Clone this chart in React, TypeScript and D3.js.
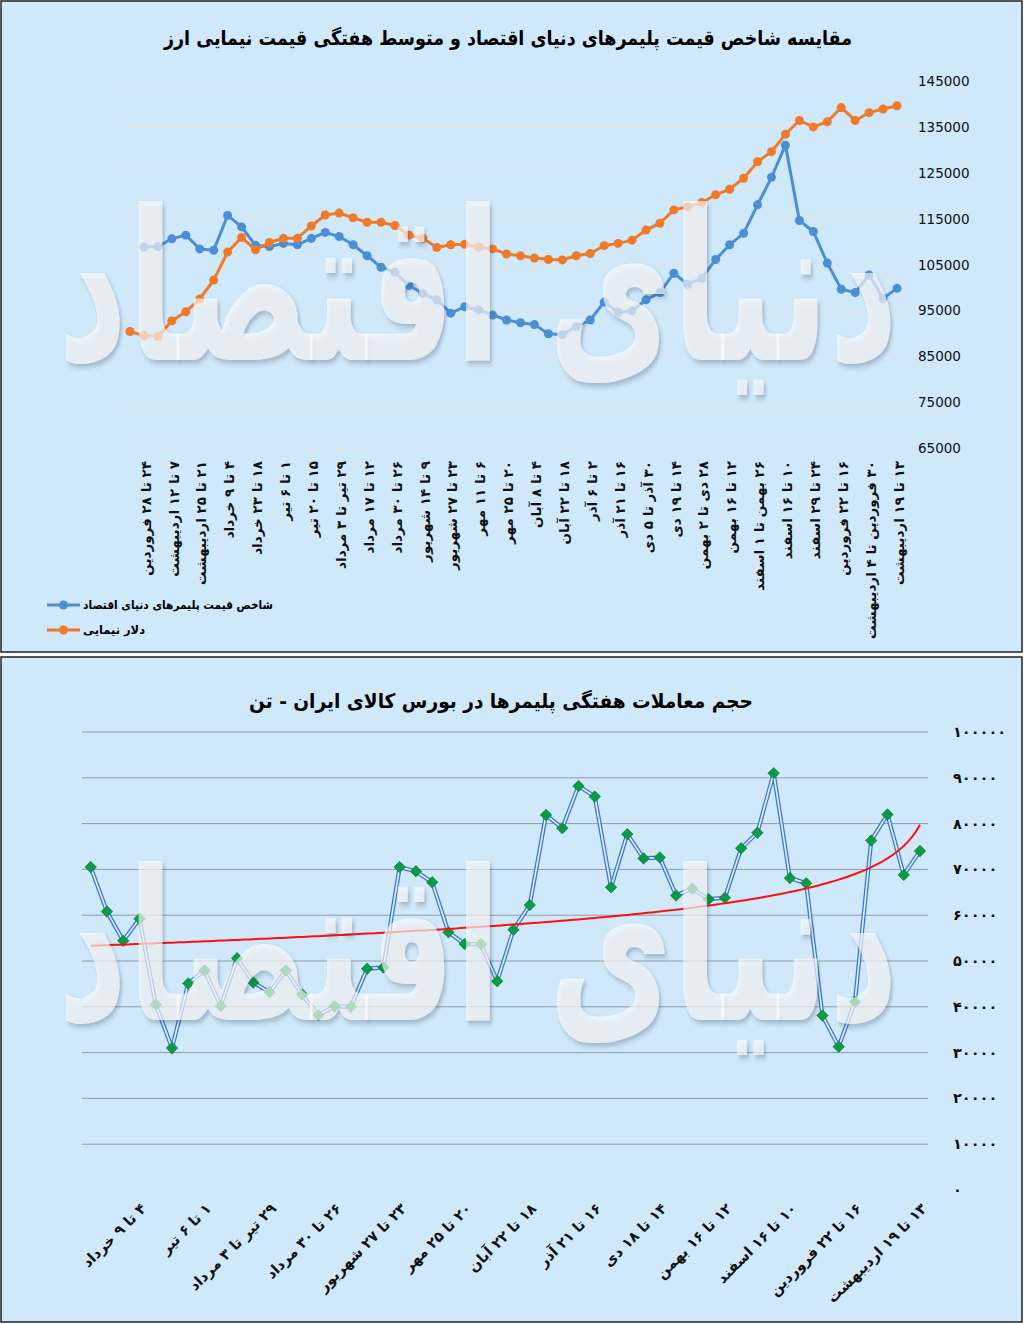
import * as d3 from "d3";

// top chart: weekly polymer price index vs NIMA dollar rate
const topLabels = [
  "۲۴ تا ۲۸ فروردین", "۷ تا ۱۲ اردیبهشت", "۲۱ تا ۲۵ اردیبهشت", "۴ تا ۹ خرداد",
  "۱۸ تا ۲۳ خرداد", "۱ تا ۶ تیر", "۱۵ تا ۲۰ تیر", "۲۹ تیر تا ۳ مرداد",
  "۱۲ تا ۱۷ مرداد", "۲۶ تا ۳۰ مرداد", "۹ تا ۱۴ شهریور", "۲۳ تا ۲۷ شهریور",
  "۶ تا ۱۱ مهر", "۲۰ تا ۲۵ مهر", "۴ تا ۸ آبان", "۱۸ تا ۲۲ آبان",
  "۲ تا ۶ آذر", "۱۶ تا ۲۱ آذر", "۳۰ آذر تا ۵ دی", "۱۴ تا ۱۹ دی",
  "۲۸ دی تا ۲ بهمن", "۱۲ تا ۱۶ بهمن", "۲۶ بهمن تا ۱ اسفند", "۱۰ تا ۱۶ اسفند",
  "۲۴ تا ۲۹ اسفند", "۱۶ تا ۲۲ فروردین", "۳۰ فروردین تا ۴ اردیبهشت", "۱۳ تا ۱۹ اردیبهشت",
];

const polymerIndex: (number | null)[] = [
  null, 108800, 108900, 110600, 111400, 108400, 108100, 115700, 113200, 109200,
  108900, 109600, 109300, 110700, 112000, 111100, 109300, 106900, 104400, 103300,
  100400, 98700, 97300, 94400, 95800, 95100, 94000, 92900, 92300, 91900,
  89900, 89700, 91500, 92900, 96800, 94600, 94900, 97300, 98900, 103100,
  100700, 102000, 106100, 109300, 111800, 118000, 124000, 131000, 114600, 112200,
  105300, 99600, 98900, 102700, 97600, 99800,
];

const nimaDollar = [
  90400, 89500, 89300, 92700, 94700, 97500, 101600, 107700, 110900, 108200,
  109800, 110700, 110700, 113400, 115800, 116200, 115200, 114200, 114200, 113500,
  111400, 110700, 108700, 109300, 109400, 108800, 108400, 107300, 106900, 106400,
  106100, 106000, 106900, 107400, 109100, 109600, 110300, 112500, 114000, 116900,
  117600, 118500, 120200, 121400, 123800, 127400, 129600, 133400, 136400, 135000,
  136100, 139200, 136400, 138100, 138900, 139600,
];

const topTicks = [65000, 75000, 85000, 95000, 105000, 115000, 125000, 135000, 145000];

// bottom chart: weekly traded volume (tons)
const bottomLabels = [
  "۴ تا ۹ خرداد", "۱ تا ۶ تیر", "۲۹ تیر تا ۳ مرداد", "۲۶ تا ۳۰ مرداد",
  "۲۳ تا ۲۷ شهریور", "۲۰ تا ۲۵ مهر", "۱۸ تا ۲۲ آبان", "۱۶ تا ۲۱ آذر",
  "۱۴ تا ۱۸ دی", "۱۲ تا ۱۶ بهمن", "۱۰ تا ۱۶ اسفند", "۱۶ تا ۲۲ فروردین",
  "۱۳ تا ۱۹ اردیبهشت",
];

const tradeVolume = [
  70500, 60800, 54400, 59200, 40500, 31000, 45100, 47900, 40200, 50600,
  45300, 43200, 47900, 42700, 38200, 40100, 40000, 48300, 48600, 70500,
  69600, 67200, 56300, 53700, 53700, 45600, 56800, 62200, 81900, 79000,
  88200, 85900, 66100, 77700, 72400, 72600, 64300, 65800, 63500, 63800,
  74600, 78000, 91000, 68100, 67000, 38100, 31300, 41100, 76300, 82000,
  68800, 74000,
];

const bottomTicks = [0, 10000, 20000, 30000, 40000, 50000, 60000, 70000, 80000, 90000, 100000];

const FONT = "DejaVu Sans";
const BG = "#cfe8fa";
const BLUE = "#4a8fd6";
const ORANGE = "#ef7b2a";

const faDigits = (s: string) => s.replace(/[0-9]/g, (d) => "۰۱۲۳۴۵۶۷۸۹"[+d]);

// semi-transparent site logo laid over the plot
function Watermark({ y }: { y: number }) {
  return (
    <text
      transform={`translate(478,${y}) scale(1,1.75)`}
      textAnchor="middle"
      direction="rtl"
      fontFamily={FONT}
      fontWeight="bold"
      fontSize={120}
      textLength={840}
      lengthAdjust="spacingAndGlyphs"
      fill="#ffffff"
      fillOpacity={0.62}
      filter="url(#wmShadow)"
    >
      دنیای اقتصاد
    </text>
  );
}

function TopChart() {
  const x = d3.scalePoint<number>().domain(d3.range(nimaDollar.length)).range([130, 897]);
  const y = d3.scaleLinear().domain([65000, 145000]).range([448, 81]);
  const line = d3
    .line<number | null>()
    .defined((d) => d != null)
    .x((_, i) => x(i) as number)
    .y((d) => y(d as number));

  return (
    <g>
      <rect x={1} y={1} width={1021} height={651} fill={BG} stroke="#222" strokeWidth={1.5} />
      <text
        x={508}
        y={45}
        textAnchor="middle"
        direction="rtl"
        fontFamily={FONT}
        fontWeight="bold"
        fontSize={20}
        textLength={688}
        lengthAdjust="spacingAndGlyphs"
      >
        مقایسه شاخص قیمت پلیمرهای دنیای اقتصاد و متوسط هفتگی قیمت نیمایی ارز
      </text>
      {topTicks.map((t) => (
        <g key={t}>
          <line x1={123} x2={910} y1={y(t)} y2={y(t)} stroke="#e3e3e3" strokeWidth={1.2} />
          <text x={918} y={y(t) + 5} fontFamily={FONT} fontSize={13.5} fill="#111">
            {t}
          </text>
        </g>
      ))}
      <path d={line(polymerIndex) ?? ""} fill="none" stroke={BLUE} strokeWidth={3} />
      {polymerIndex.map((d, i) =>
        d == null ? null : <circle key={i} cx={x(i)} cy={y(d)} r={4.5} fill={BLUE} />
      )}
      <path d={line(nimaDollar) ?? ""} fill="none" stroke={ORANGE} strokeWidth={3} />
      {nimaDollar.map((d, i) => (
        <circle key={i} cx={x(i)} cy={y(d)} r={4.5} fill={ORANGE} />
      ))}
      <Watermark y={360} />
      {topLabels.map((lab, k) => (
        <text
          key={k}
          transform={`translate(${(x(2 * k + 1) as number) + 2},461) rotate(-90)`}
          dy="0.35em"
          direction="rtl"
          textAnchor="start"
          fontFamily={FONT}
          fontWeight="bold"
          fontSize={13.5}
          fill="#111"
        >
          {lab}
        </text>
      ))}
      <line x1={47} x2={80} y1={605} y2={605} stroke={BLUE} strokeWidth={3} />
      <circle cx={63.5} cy={605} r={4.5} fill={BLUE} />
      <text x={83} y={609} fontFamily={FONT} fontWeight="bold" fontSize={11.5} textLength={190} lengthAdjust="spacingAndGlyphs">
        شاخص قیمت پلیمرهای دنیای اقتصاد
      </text>
      <line x1={47} x2={80} y1={630} y2={630} stroke={ORANGE} strokeWidth={3} />
      <circle cx={63.5} cy={630} r={4.5} fill={ORANGE} />
      <text x={83} y={634} fontFamily={FONT} fontWeight="bold" fontSize={11.5}>
        دلار نیمایی
      </text>
    </g>
  );
}

function BottomChart() {
  const n = tradeVolume.length;
  const x = d3.scalePoint<number>().domain(d3.range(n)).range([90.7, 920]);
  const y = d3.scaleLinear().domain([0, 100000]).range([1190, 732]);
  const line = d3
    .line<number>()
    .x((_, i) => x(i) as number)
    .y((d) => y(d));

  // logarithmic trend line, fitted on the reversed category order
  const lx = tradeVolume.map((_, i) => Math.log(n - i));
  const mx = d3.mean(lx) as number;
  const my = d3.mean(tradeVolume) as number;
  const b =
    d3.sum(lx, (v, i) => (v - mx) * (tradeVolume[i] - my)) / d3.sum(lx, (v) => (v - mx) * (v - mx));
  const a = my - b * mx;
  const step = (x(n - 1)! - x(0)!) / (n - 1);
  const trendX = d3.range(0, n - 1 + 0.001, 0.25);
  const trend = d3
    .line<number>()
    .x((t) => x(0)! + t * step)
    .y((t) => y(a + b * Math.log(n - t)));

  const marker = d3.symbol(d3.symbolSquare, 66)();

  return (
    <g>
      <rect x={1} y={657} width={1021} height={665} fill={BG} stroke="#222" strokeWidth={1.5} />
      <text
        x={501}
        y={708}
        textAnchor="middle"
        direction="rtl"
        fontFamily={FONT}
        fontWeight="bold"
        fontSize={20}
        textLength={504}
        lengthAdjust="spacingAndGlyphs"
      >
        حجم معاملات هفتگی پلیمرها در بورس کالای ایران - تن
      </text>
      {bottomTicks.map((t) => (
        <g key={t}>
          {t > 0 && <line x1={82} x2={928} y1={y(t)} y2={y(t)} stroke="#8f9ea6" strokeWidth={1} />}
          <text x={953} y={y(t) + 5} fontFamily={FONT} fontWeight="bold" fontSize={14.5} fill="#111">
            {faDigits(String(t))}
          </text>
        </g>
      ))}
      <path d={line(tradeVolume) ?? ""} fill="none" stroke="#3b78cf" strokeWidth={4.2} />
      <path d={line(tradeVolume) ?? ""} fill="none" stroke="#e4f1fd" strokeWidth={1.6} />
      {tradeVolume.map((d, i) => (
        <path
          key={i}
          d={marker ?? ""}
          transform={`translate(${x(i)},${y(d)}) rotate(45)`}
          fill="#0b9a45"
          stroke="#0a7a38"
          strokeWidth={0.6}
        />
      ))}
      <path d={trend(trendX) ?? ""} fill="none" stroke="#ff1010" strokeWidth={2} />
      <Watermark y={1020} />
      {bottomLabels.map((lab, k) => (
        <text
          key={k}
          transform={`translate(${(x(4 * k + 3) as number) + 4},1206) rotate(-45)`}
          dy="0.35em"
          direction="rtl"
          textAnchor="start"
          fontFamily={FONT}
          fontWeight="bold"
          fontSize={14.5}
          fill="#111"
        >
          {lab}
        </text>
      ))}
    </g>
  );
}

export default function App() {
  return (
    <svg
      width={1024}
      height={1324}
      style={{ position: "absolute", left: 0, top: 0, background: "#fff" }}
    >
      <defs>
        <filter id="wmShadow" x="-10%" y="-10%" width="120%" height="130%">
          <feDropShadow dx={2} dy={2} stdDeviation={1.5} floodColor="#2a3a55" floodOpacity={0.45} />
        </filter>
      </defs>
      <TopChart />
      <BottomChart />
    </svg>
  );
}
